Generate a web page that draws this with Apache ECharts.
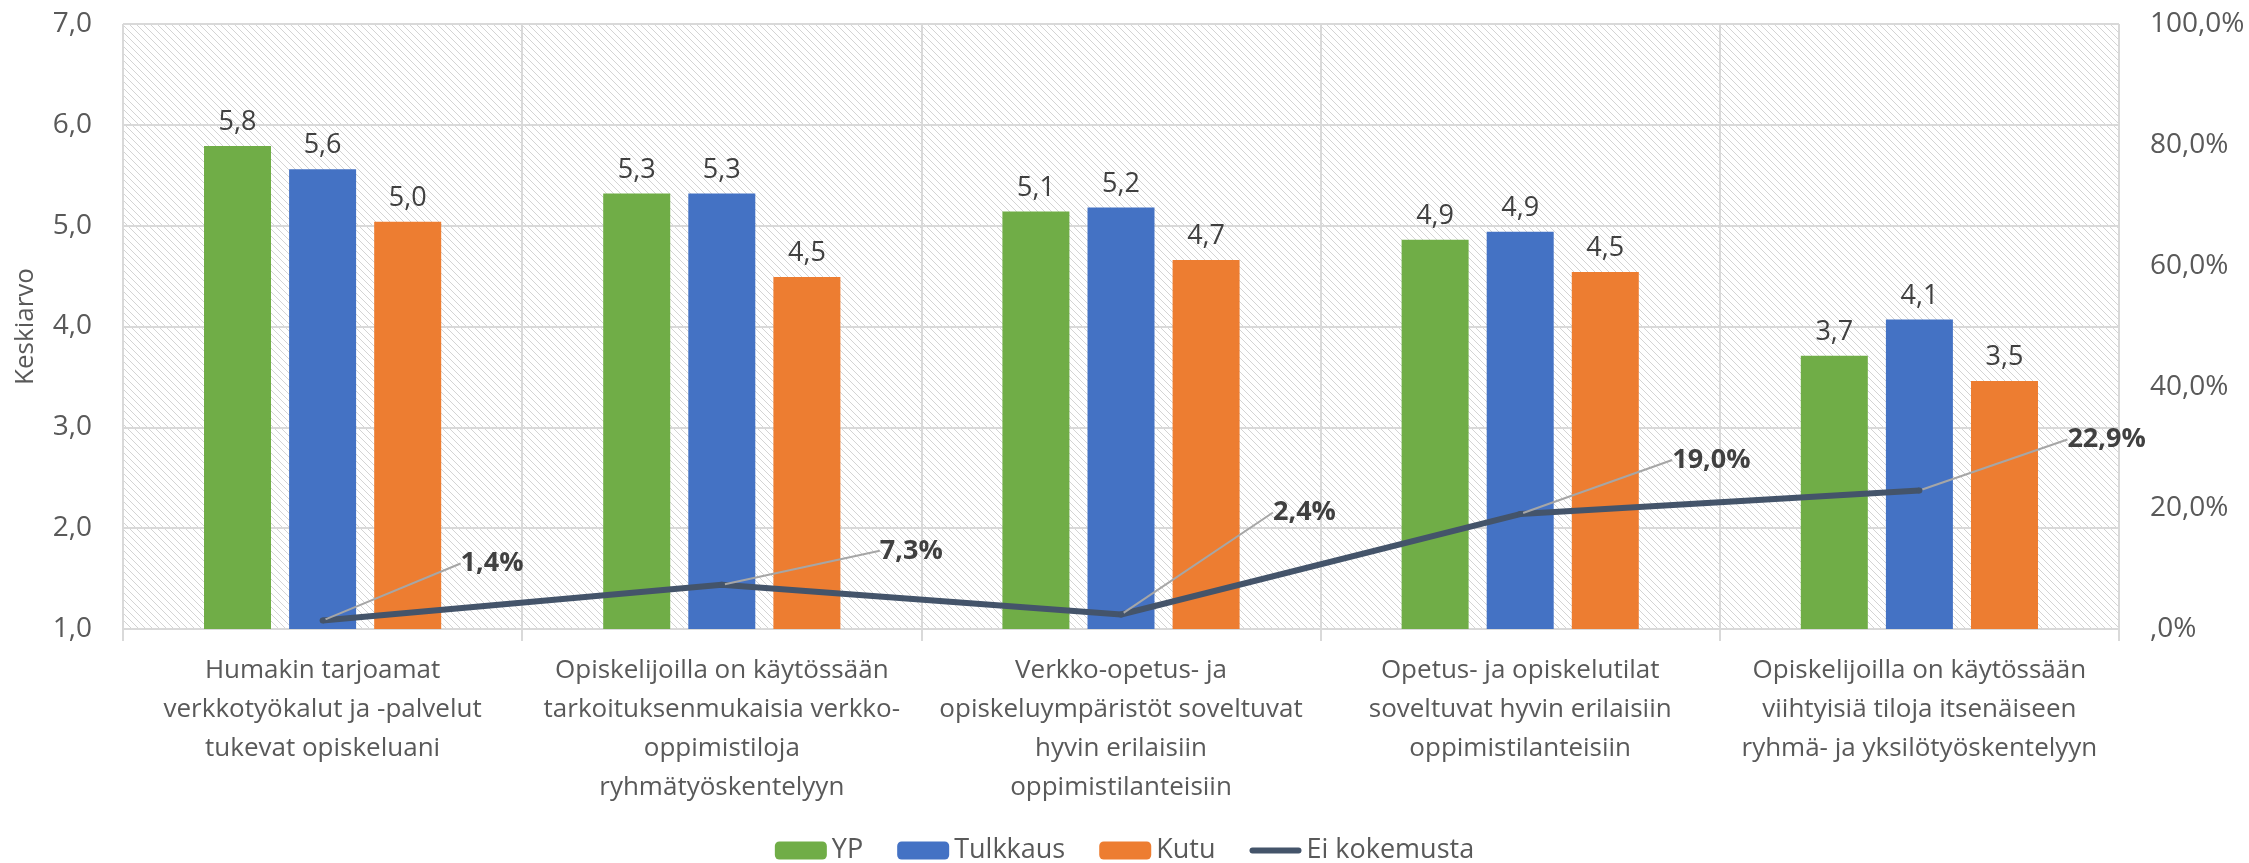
<!DOCTYPE html>
<html>
<head>
<meta charset="utf-8">
<script src="https://cdn.jsdelivr.net/npm/echarts@6/dist/echarts.min.js"></script>
<style>
  html, body { margin: 0; padding: 0; background: #ffffff; }
  #chart { width: 2249px; height: 863px; }
</style>
</head>
<body>
<div id="chart"></div>
<script>
// ---- Data ----
const categories = [
  "Humakin tarjoamat\nverkkotyökalut ja -palvelut\ntukevat opiskeluani",
  "Opiskelijoilla on käytössään\ntarkoituksenmukaisia verkko-\noppimistiloja\nryhmätyöskentelyyn",
  "Verkko-opetus- ja\nopiskeluympäristöt soveltuvat\nhyvin erilaisiin\noppimistilanteisiin",
  "Opetus- ja opiskelutilat\nsoveltuvat hyvin erilaisiin\noppimistilanteisiin",
  "Opiskelijoilla on käytössään\nviihtyisiä tiloja itsenäiseen\nryhmä- ja yksilötyöskentelyyn"
];
const seriesNames = ["YP", "Tulkkaus", "Kutu", "Ei kokemusta"];
const ypValues = [5.79, 5.32, 5.14, 4.86, 3.71];
const tulkkausValues = [5.56, 5.32, 5.18, 4.94, 4.07];
const kutuValues = [5.04, 4.49, 4.66, 4.54, 3.46];
const eiKokemustaValues = [0.014, 0.073, 0.024, 0.190, 0.229];
const leftAxisRange = [1, 7, 1];
const rightAxisRange = [0, 1, 0.2];

// ---- Label offsets for the callout labels (layout only) ----
const calloutDx = [135, 155, 149, 149, 145];
const calloutDy = [-57, -34, -102, -54, -51];

const FONT = "'Open Sans', 'Noto Sans', sans-serif";

// hatch pattern
const pat = document.createElement('canvas');
pat.width = 7; pat.height = 7;
const pctx = pat.getContext('2d');
pctx.fillStyle = '#ffffff';
pctx.fillRect(0, 0, 7, 7);
pctx.fillStyle = '#d4d4d4';
for (let i = 0; i < 7; i++) { pctx.fillRect(i, i, 1, 1); }

function comma1(v) { return v.toFixed(1).replace('.', ','); }
function pctFmt(v) {
  if (v === 0) return ',0%';
  return (v * 100).toFixed(1).replace('.', ',') + '%';
}

const chart = echarts.init(document.getElementById('chart'), null, { renderer: 'canvas' });

const barLabel = {
  show: true,
  position: 'top',
  distance: 10,
  fontFamily: FONT,
  fontSize: 27,
  color: '#404040',
  formatter: p => comma1(p.value)
};

const option = {
  animation: false,
  backgroundColor: '#ffffff',
  textStyle: { fontFamily: FONT },
  grid: {
    left: 123, right: 130, top: 24, bottom: 234,
    show: true,
    backgroundColor: { image: pat, repeat: 'repeat' },
    borderWidth: 0
  },
  legend: {
    data: [
      { name: 'YP' },
      { name: 'Tulkkaus' },
      { name: 'Kutu' },
      { name: 'Ei kokemusta', icon: 'path://M0,0 M52,18 M3,6 L49,6 A3,3 0 0 1 49,12 L3,12 A3,3 0 0 1 3,6 Z' }
    ],
    left: 'center',
    top: 832,
    itemWidth: 52,
    itemHeight: 18,
    itemGap: 34,
    textStyle: { fontFamily: FONT, fontSize: 27, color: '#595959' }
  },
  xAxis: {
    type: 'category',
    data: categories,
    axisLine: { show: true, lineStyle: { color: '#d9d9d9', width: 2 } },
    axisTick: { show: true, length: 12, lineStyle: { color: '#d9d9d9', width: 2 } },
    splitLine: { show: true, lineStyle: { color: '#d9d9d9', width: 2 } },
    axisLabel: {
      interval: 0,
      margin: 22,
      fontFamily: FONT,
      fontSize: 26,
      lineHeight: 39,
      color: '#595959'
    }
  },
  yAxis: [
    {
      type: 'value',
      min: leftAxisRange[0], max: leftAxisRange[1], interval: leftAxisRange[2],
      name: 'Keskiarvo',
      nameLocation: 'middle',
      nameGap: 84,
      nameTextStyle: { fontFamily: FONT, fontSize: 26, color: '#595959' },
      axisLine: { show: false },
      axisTick: { show: false },
      splitLine: { show: true, lineStyle: { color: '#d9d9d9', width: 2 } },
      axisLabel: { margin: 31, fontFamily: FONT, fontSize: 28, color: '#595959', formatter: v => comma1(v) }
    },
    {
      type: 'value',
      min: rightAxisRange[0], max: rightAxisRange[1], interval: rightAxisRange[2],
      position: 'right',
      axisLine: { show: false },
      axisTick: { show: false },
      splitLine: { show: false },
      axisLabel: { margin: 31, fontFamily: FONT, fontSize: 28, color: '#595959', formatter: v => pctFmt(v) }
    }
  ],
  series: [
    {
      name: seriesNames[0], type: 'bar', data: ypValues,
      barWidth: 67, barGap: '27%',
      itemStyle: { color: '#70ad47' },
      label: barLabel
    },
    {
      name: seriesNames[1], type: 'bar', data: tulkkausValues,
      barWidth: 67, barGap: '27%',
      itemStyle: { color: '#4472c4' },
      label: barLabel
    },
    {
      name: seriesNames[2], type: 'bar', data: kutuValues,
      barWidth: 67, barGap: '27%',
      itemStyle: { color: '#ed7d31' },
      label: barLabel
    },
    {
      name: seriesNames[3], type: 'line', data: eiKokemustaValues,
      yAxisIndex: 1,
      z: 5,
      symbol: 'circle', symbolSize: 6,
      itemStyle: { color: '#44546a' },
      lineStyle: { color: '#44546a', width: 6 },
      label: {
        show: true,
        position: 'right',
        distance: 0,
        fontFamily: FONT,
        fontSize: 27,
        fontWeight: 'bold',
        color: '#404040',
        formatter: p => pctFmt(p.value)
      },
      labelLine: { show: true, lineStyle: { color: '#a6a6a6', width: 2 } },
      labelLayout: p => ({ dx: calloutDx[p.dataIndex], dy: calloutDy[p.dataIndex] })
    }
  ]
};

chart.setOption(option);
</script>
</body>
</html>
